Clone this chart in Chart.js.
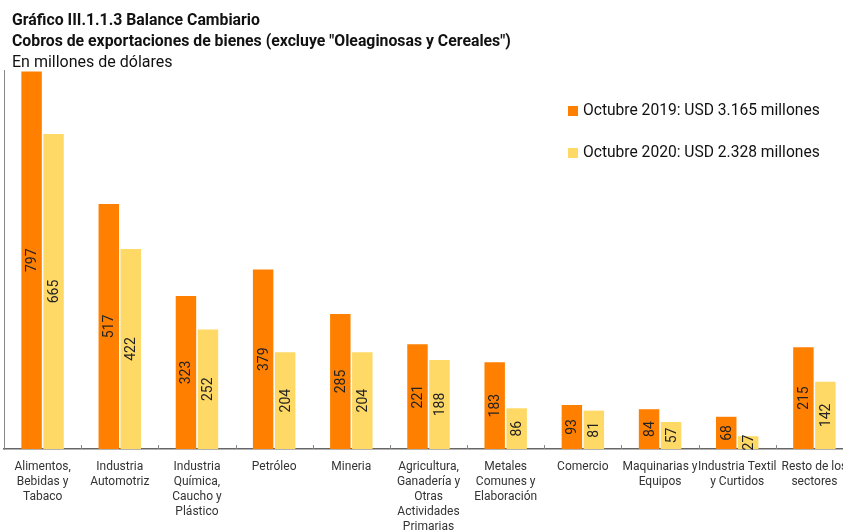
<!DOCTYPE html>
<html>
<head>
<meta charset="utf-8">
<script src="https://cdn.jsdelivr.net/npm/chart.js@4.4.0/dist/chart.umd.min.js"></script>
<style>
  html, body { margin: 0; padding: 0; background: #fff; overflow: hidden; }
  #wrap { position: relative; width: 860px; height: 530px; }
  .t { position: absolute; left: 12px; font-family: Roboto, sans-serif; color: #111; white-space: nowrap; transform-origin: left top; }
  #t1 { top: 9px; font-size: 17px; font-weight: bold; transform: scaleX(0.93); }
  #t2 { top: 30px; font-size: 17px; font-weight: bold; transform: scaleX(0.93); }
  #t3 { top: 52px; font-size: 16px; }
</style>
</head>
<body>
<div id="wrap">
  <canvas id="myChart" width="860" height="530"></canvas>
  <div class="t" id="t1">Gráfico III.1.1.3 Balance Cambiario</div>
  <div class="t" id="t2">Cobros de exportaciones de bienes (excluye "Oleaginosas y Cereales")</div>
  <div class="t" id="t3">En millones de dólares</div>
</div>
<script>
// Categorías (etiquetas del eje x, en varias líneas)
const categorias = [
    ['Alimentos,', 'Bebidas y', 'Tabaco'],
    ['Industria', 'Automotriz'],
    ['Industria', 'Química,', 'Caucho y', 'Plástico'],
    ['Petróleo'],
    ['Mineria'],
    ['Agricultura,', 'Ganadería y', 'Otras', 'Actividades', 'Primarias'],
    ['Metales', 'Comunes y', 'Elaboración'],
    ['Comercio'],
    ['Maquinarias y', 'Equipos'],
    ['Industria Textil', 'y Curtidos'],
    ['Resto de los', 'sectores']
];

// Valores en millones de dólares
const octubre2019 = [797, 517, 323, 379, 285, 221, 183, 93, 84, 68, 215];
const octubre2020 = [665, 422, 252, 204, 204, 188, 86, 81, 57, 27, 142];

const etiqueta2019 = 'Octubre 2019: USD 3.165 millones';
const etiqueta2020 = 'Octubre 2020: USD 2.328 millones';

// Plugin: valores rotados dentro de las barras
const valoresPlugin = {
    id: 'valores',
    afterDatasetsDraw(chart) {
        const ctx = chart.ctx;
        ctx.save();
        ctx.font = '14px Roboto, sans-serif';
        ctx.fillStyle = '#222';
        ctx.textAlign = 'center';
        ctx.textBaseline = 'middle';
        chart.data.datasets.forEach((ds, i) => {
            chart.getDatasetMeta(i).data.forEach((bar, j) => {
                const yMid = (bar.y + bar.base) / 2;
                ctx.save();
                ctx.translate(bar.x + 1, yMid);
                ctx.rotate(-Math.PI / 2);
                ctx.fillText(String(ds.data[j]), 0, 0);
                ctx.restore();
            });
        });
        ctx.restore();
    }
};

// Plugin: leyenda y marcas del eje x
const leyendaPlugin = {
    id: 'leyenda',
    afterDraw(chart) {
        const ctx = chart.ctx;
        const area = chart.chartArea;
        const xScale = chart.scales.x;
        ctx.save();
        // marcas entre categorías
        ctx.strokeStyle = '#888';
        ctx.lineWidth = 1;
        for (let i = 1; i < categorias.length; i++) {
            const x = Math.round((xScale.getPixelForValue(i - 1) + xScale.getPixelForValue(i)) / 2) + 0.5;
            ctx.beginPath();
            ctx.moveTo(x, area.bottom);
            ctx.lineTo(x, area.bottom - 4);
            ctx.stroke();
        }
        // leyenda
        ctx.font = '15.6px Roboto, sans-serif';
        ctx.textBaseline = 'middle';
        chart.data.datasets.forEach((ds, i) => {
            const y = 111 + i * 42;
            ctx.fillStyle = ds.backgroundColor;
            ctx.fillRect(568, y - 5, 10, 10);
            ctx.fillStyle = '#111';
            ctx.fillText(ds.label, 583, y);
        });
        ctx.restore();
    }
};

const ctx = document.getElementById('myChart').getContext('2d');
const myChart = new Chart(ctx, {
    type: 'bar',
    data: {
        labels: categorias,
        datasets: [{
            label: etiqueta2019,
            data: octubre2019,
            backgroundColor: '#FF8000',
            barPercentage: 0.93,
            categoryPercentage: 0.57
        }, {
            label: etiqueta2020,
            data: octubre2020,
            backgroundColor: '#FFD966',
            barPercentage: 0.93,
            categoryPercentage: 0.57
        }]
    },
    plugins: [valoresPlugin, leyendaPlugin],
    options: {
        responsive: false,
        animation: false,
        layout: { padding: { top: 70, left: 4, right: 7, bottom: 0 } },
        plugins: {
            legend: { display: false },
            tooltip: { enabled: false }
        },
        scales: {
            x: {
                grid: { display: false },
                border: { display: true, color: '#666', width: 1.5 },
                ticks: {
                    maxRotation: 0,
                    autoSkip: false,
                    padding: 2,
                    color: '#333',
                    font: { family: 'Roboto, sans-serif', size: 12, lineHeight: 1.25 }
                },
                afterFit: s => { s.height = 81; }
            },
            y: {
                min: 0,
                max: 800,
                grid: { display: false },
                border: { display: true, color: '#888', width: 1 },
                ticks: { display: false },
                afterFit: s => { s.width = 0; }
            }
        }
    }
});
</script>
</body>
</html>
